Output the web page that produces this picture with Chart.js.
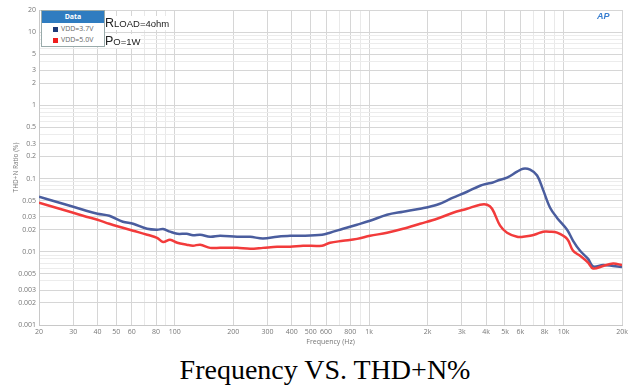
<!DOCTYPE html>
<html>
<head>
<meta charset="utf-8">
<script src="https://cdn.jsdelivr.net/npm/chart.js@4.4.1/dist/chart.umd.min.js"></script>
<style>
  body { margin: 0; background: #fff; }
  #wrap { position: relative; width: 632px; height: 387px; }
  #box { position: absolute; left: 0; top: 0; width: 632px; height: 350px; }
  .legend { position: absolute; left: 41px; top: 10px; width: 62px; height: 35px; background: #fff; border: 1px solid #9aa; font: 7px "Open Sans", sans-serif; color: #666; }
  .legend .hd { background: #2f7cc0; color: #fff; text-align: center; height: 12px; line-height: 12px; font-weight: bold; }
  .legend .row { height: 11px; line-height: 11px; padding-left: 11px; }
  .legend .sw { display: inline-block; width: 5px; height: 5px; margin-right: 3px; vertical-align: -0.5px; }
  .note { position: absolute; left: 105px; background: #fff; font-family: "Liberation Sans", Arial, sans-serif; font-size: 9.5px; color: #222; }
  .note span { font-size: 12.5px; }
  .ap { position: absolute; left: 597px; top: 11px; font: italic bold 9px "Liberation Sans", sans-serif; color: #3a7fd0; }
  .cap { position: absolute; left: 0; width: 650px; top: 354px; text-align: center; font: 28px "Liberation Serif", "Times New Roman", serif; color: #000; }
</style>
</head>
<body>
<div id="wrap">
  <div id="box"><canvas id="myChart"></canvas></div>
  <div class="legend">
    <div class="hd">Data</div>
    <div class="row"><span class="sw" style="background:#1d3a78"></span>VDD=3.7V</div>
    <div class="row"><span class="sw" style="background:#f01c1c"></span>VDD=5.0V</div>
  </div>
  <div class="note" style="top:16px"><span>R</span>LOAD=4ohm</div>
  <div class="note" style="top:34px"><span>P</span>O=1W</div>
  <div class="ap">AP</div>
  <div class="cap">Frequency VS. THD+N%</div>
</div>
<script>
// frequency points (Hz)
var freqs = [20, 24.5, 30, 35, 40, 46, 54, 61, 72, 81, 87, 94.5, 103, 115, 124, 135, 152, 171, 209, 244, 284, 336, 392, 457, 572, 629, 734, 866, 1010, 1236, 1494, 1828, 2236, 2702, 3190, 3722, 4044, 4290, 4718, 5124, 5770, 6194, 6730, 7314, 7852, 8532, 9268, 10436, 11204, 12172, 13384, 14202, 15988, 18000, 20000];

// THD+N (%) VDD=3.7V
var vdd37 = [0.0564, 0.0482, 0.0412, 0.0363, 0.0331, 0.0310, 0.0257, 0.0241, 0.0206, 0.0200, 0.0204, 0.0188, 0.0176, 0.0176, 0.0168, 0.0171, 0.0160, 0.0165, 0.0160, 0.0160, 0.0152, 0.0160, 0.0165, 0.0165, 0.0171, 0.0182, 0.0206, 0.0234, 0.0265, 0.0320, 0.0352, 0.0387, 0.0439, 0.0547, 0.0660, 0.0797, 0.0849, 0.0876, 0.0963, 0.1025, 0.1239, 0.1361, 0.1319, 0.1100, 0.0700, 0.0399, 0.0290, 0.0200, 0.0141, 0.0103, 0.0080, 0.0063, 0.0066, 0.0064, 0.0062];

// THD+N (%) VDD=5.0V
var vdd50 = [0.0467, 0.0399, 0.0341, 0.0301, 0.0274, 0.0241, 0.0213, 0.0194, 0.0171, 0.0155, 0.0136, 0.0146, 0.0133, 0.0125, 0.0121, 0.0125, 0.0113, 0.0113, 0.0113, 0.0110, 0.0113, 0.0117, 0.0117, 0.0121, 0.0121, 0.0133, 0.0141, 0.0150, 0.0165, 0.0182, 0.0206, 0.0241, 0.0282, 0.0341, 0.0387, 0.0439, 0.0439, 0.0387, 0.0227, 0.0182, 0.0160, 0.0160, 0.0165, 0.0176, 0.0188, 0.0188, 0.0182, 0.0150, 0.0103, 0.0088, 0.0071, 0.0059, 0.0064, 0.0069, 0.0066];

var xTicks = [20,30,40,50,60,70,80,90,100,200,300,400,500,600,700,800,900,1000,2000,3000,4000,5000,6000,7000,8000,9000,10000,20000];
var xLabels = {20:'20',30:'30',40:'40',50:'50',60:'60',80:'80',100:'100',200:'200',300:'300',400:'400',500:'500',600:'600',800:'800',1000:'1k',2000:'2k',3000:'3k',4000:'4k',5000:'5k',6000:'6k',8000:'8k',10000:'10k',20000:'20k'};

var yTicks = [0.001,0.002,0.003,0.004,0.005,0.006,0.007,0.008,0.009,0.01,0.02,0.03,0.04,0.05,0.06,0.07,0.08,0.09,0.1,0.2,0.3,0.4,0.5,0.6,0.7,0.8,0.9,1,2,3,4,5,6,7,8,9,10,20];
var yLabels = [20,10,5,3,2,1,0.5,0.3,0.2,0.1,0.05,0.03,0.02,0.01,0.005,0.003,0.002,0.001];

var tickFont = { family: 'Open Sans', size: 7 };

function toPoints(arr) {
	return freqs.map((f, i) => ({ x: f, y: arr[i] }));
}

var ctx = document.getElementById('myChart');
var myChart = new Chart(ctx, {
	type: 'line',
	data: {
		datasets: [{
			label: 'VDD=5.0V',
			data: toPoints(vdd50),
			borderColor: '#f23b3b',
			borderWidth: 2.5,
			pointRadius: 0,
			tension: 0.35
		}, {
			label: 'VDD=3.7V',
			data: toPoints(vdd37),
			borderColor: '#4a5d9e',
			borderWidth: 2.5,
			pointRadius: 0,
			tension: 0.35
		}]
	},
	options: {
		responsive: true,
		maintainAspectRatio: false,
		animation: false,
		layout: { padding: { top: 10, right: 10, left: 0, bottom: 0 } },
		plugins: { legend: { display: false }, tooltip: { enabled: false } },
		scales: {
			x: {
				type: 'logarithmic',
				min: 20,
				max: 20000,
				afterBuildTicks: axis => { axis.ticks = xTicks.map(v => ({ value: v })); },
				afterFit: axis => { axis.height = 25; },
				ticks: {
					autoSkip: false,
					maxRotation: 0,
					padding: 3,
					color: '#777',
					font: tickFont,
					callback: v => xLabels[v] || ''
				},
				grid: {
					drawTicks: false,
					color: c => (xLabels[c.tick && c.tick.value] ? '#d6d6d6' : '#e9e9e9')
				},
				border: { color: '#c8c8c8' },
				title: { display: true, text: 'Frequency (Hz)', color: '#777', font: tickFont, padding: { top: 0, bottom: 4 } }
			},
			y: {
				type: 'logarithmic',
				min: 0.001,
				max: 20,
				afterBuildTicks: axis => { axis.ticks = yTicks.map(v => ({ value: v })); },
				afterFit: axis => { axis.width = 39; },
				ticks: {
					autoSkip: false,
					padding: 3,
					color: '#777',
					font: tickFont,
					callback: v => (yLabels.indexOf(v) >= 0 ? String(v) : '')
				},
				grid: {
					drawTicks: false,
					color: c => (yLabels.indexOf(c.tick && c.tick.value) >= 0 ? '#d6d6d6' : '#ececec')
				},
				border: { color: '#c8c8c8' },
				title: { display: true, text: 'THD+N Ratio (%)', color: '#777', font: { family: 'Open Sans', size: 6.5 }, padding: { top: 12, bottom: 0 } }
			}
		}
	}
});
</script>
</body>
</html>
